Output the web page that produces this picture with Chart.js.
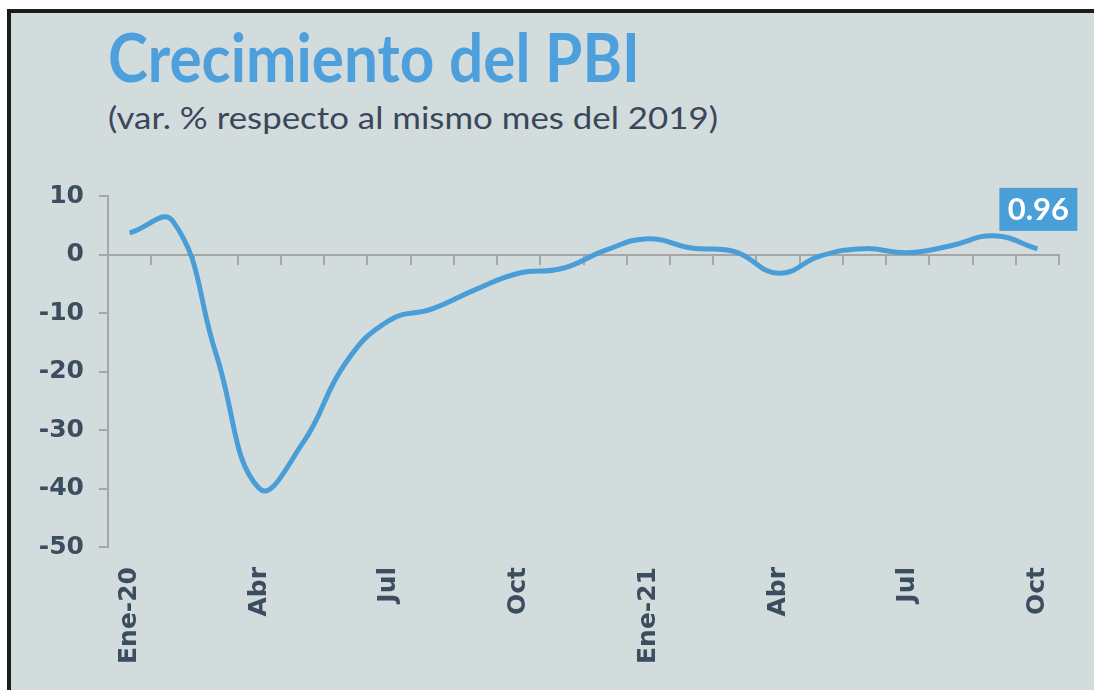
<!DOCTYPE html>
<html>
<head>
<meta charset="utf-8">
<script src="https://cdn.jsdelivr.net/npm/chart.js@4.4.1/dist/chart.umd.min.js"></script>
<style>
  html, body { margin: 0; padding: 0; background: #ffffff; }
  #wrap { position: relative; width: 1094px; height: 690px; overflow: hidden; }
  #panel {
    position: absolute; left: 7px; top: 9px; width: 1200px; height: 800px;
    background: #d3dcdd; border-left: 4px solid #1c1c1a; border-top: 4px solid #1c1c1a;
  }
  .txt { position: absolute; left: 108px; white-space: nowrap; line-height: 1; transform-origin: 0 0; }
  #title { top: 17px; font: bold 66px Lato, "DejaVu Sans Condensed", sans-serif; color: #4ea0dc; }
  #subtitle { top: 98px; font: 31px Lato, "DejaVu Sans Condensed", sans-serif; color: #3a4759; }
  canvas { position: absolute; left: 0; top: 0; }
</style>
</head>
<body>
<div id="wrap">
  <div id="panel"></div>
  <div id="title" class="txt">Crecimiento del PBI</div>
  <div id="subtitle" class="txt">(var. % respecto al mismo mes del 2019)</div>
  <canvas id="myChart" width="1094" height="690"></canvas>
</div>
<script>
// months from Jan 2020 to Oct 2021
var months = ['Ene-20', 'Feb', 'Mar', 'Abr', 'May', 'Jun', 'Jul', 'Ago', 'Set', 'Oct', 'Nov', 'Dic',
              'Ene-21', 'Feb', 'Mar', 'Abr', 'May', 'Jun', 'Jul', 'Ago', 'Set', 'Oct'];
// var. % vs same month of 2019
var growth = [3.7, 5.7, -17.0, -40.0, -32.3, -18.5, -11.3, -9.3, -6.0, -3.2, -2.4, 0.7,
              2.7, 1.1, 0.5, -3.2, -0.2, 1.0, 0.3, 1.5, 3.2, 0.96];
var yTicks = [10, 0, -10, -20, -30, -40, -50];

var lineBlue = '#4a9ed8';
var axisGray = '#a6a6a6';
var labelColor = '#3c4d60';

// squeeze title texts to the reference widths
function fitWidth(id, w) {
  var el = document.getElementById(id);
  var cur = el.getBoundingClientRect().width;
  el.style.transform = 'scaleX(' + (w / cur) + ')';
}
fitWidth('title', 532);
fitWidth('subtitle', 610);

// box with the last value
var lastLabel = {
  id: 'lastLabel',
  afterDatasetsDraw: function (chart) {
    var meta = chart.getDatasetMeta(0);
    var i = growth.length - 1;
    var pt = meta.data[i];
    var c = chart.ctx;
    var w = 78, h = 43;
    var cx = pt.x + 1, bottom = pt.y - 18;
    c.save();
    c.fillStyle = '#4a9fd8';
    c.fillRect(cx - w / 2, bottom - h, w, h);
    c.fillStyle = '#ffffff';
    c.font = 'bold 31px Lato, "DejaVu Sans Condensed", sans-serif';
    c.textAlign = 'center';
    c.textBaseline = 'middle';
    c.fillText(growth[i].toFixed(2), cx, bottom - h / 2 + 1);
    c.restore();
  }
};

var ctx = document.getElementById('myChart').getContext('2d');
var chart = new Chart(ctx, {
  type: 'line',
  data: {
    labels: months,
    datasets: [{
      data: growth,
      borderColor: lineBlue,
      borderWidth: 5,
      pointRadius: 0,
      tension: 0.45,
      fill: false
    }]
  },
  options: {
    responsive: false,
    animation: false,
    layout: { padding: { top: 196, right: 35, bottom: 0, left: 0 } },
    plugins: { legend: { display: false }, tooltip: { enabled: false } },
    scales: {
      x: {
        offset: true,
        grid: { display: false, drawTicks: false },
        border: { display: false },
        afterFit: function (s) { s.height = 143; },
        ticks: {
          autoSkip: false,
          minRotation: 90,
          maxRotation: 90,
          padding: 20,
          color: labelColor,
          font: { family: '"DejaVu Sans"', size: 25, weight: 'bold' },
          callback: function (v, i) { return i % 3 === 0 ? months[i] : ''; }
        }
      },
      x2: {
        type: 'category',
        axis: 'x',
        position: { y: 0 },
        offset: true,
        grid: { offset: true, drawOnChartArea: false, tickLength: 9, color: axisGray, lineWidth: 2 },
        border: { display: true, color: axisGray, width: 2 },
        ticks: { display: false }
      },
      y: {
        min: -50,
        max: 10,
        afterFit: function (s) { s.width = 108; },
        afterBuildTicks: function (s) { s.ticks = yTicks.map(function (v) { return { value: v }; }); },
        grid: { drawOnChartArea: false, tickLength: 9, color: axisGray, lineWidth: 2 },
        border: { display: true, color: axisGray, width: 2 },
        ticks: {
          padding: 15,
          color: labelColor,
          font: { family: '"DejaVu Sans"', size: 25, weight: 'bold' }
        }
      }
    }
  },
  plugins: [lastLabel]
});
</script>
</body>
</html>
